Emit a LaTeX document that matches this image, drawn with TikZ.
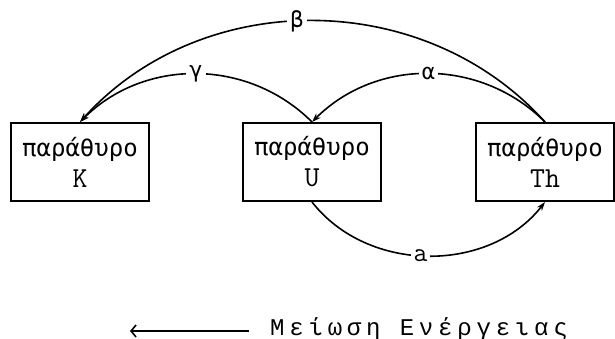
\documentclass[tikz,border=0pt]{standalone}
\usepackage{fontspec}
\usetikzlibrary{arrows.meta}
\newfontfamily\boxfont{DejaVu Sans Mono}
\newfontfamily\spacedfont[LetterSpace=20]{Liberation Mono}
\newcommand\windowlabel[1]{{\ttfamily\fontsize{29pt}{31pt}\selectfont #1}}

\begin{document}
\begin{tikzpicture}[x=1pt,y=1pt,
  window/.style={draw, line width=2pt, minimum width=138pt, minimum height=78pt,
    inner sep=0pt, align=center, font=\fontsize{24pt}{31pt}\selectfont},
  flow/.style={line width=1.6pt, -{Stealth[length=9pt,width=6pt]}},
  ratio/.style={fill=white, inner sep=3pt, font=\boxfont\fontsize{22pt}{22pt}\selectfont},
  latinratio/.style={fill=white, inner sep=3pt, font=\ttfamily\fontsize{27pt}{27pt}\selectfont}]
\useasboundingbox (0,0) rectangle (615,-339);

% the three energy windows
\node[window] (K)  at (80,-162)  {{\boxfont παράθυρο}\\\windowlabel{K}};
\node[window] (U)  at (312,-162) {{\boxfont παράθυρο}\\\windowlabel{U}};
\node[window] (Th) at (545,-162) {{\boxfont παράθυρο}\\\windowlabel{Th}};

% stripping ratios between the windows
\draw[flow] (U.north)  to[bend right=45] node[ratio] {γ} (K.north);
\draw[flow] (Th.north) to[bend right=45] node[ratio] {α} (U.north);
\draw[flow] (Th.north) to[bend right=48] node[ratio, pos=0.53] {β} (K.north);
\draw[flow] (U.south)  to[bend right=52] node[latinratio, pos=0.47] {a} (Th.south);

% energy direction
\coordinate (es) at (249,-331);
\coordinate (ee) at (130,-331);
\draw[line width=1.6pt, -{Straight Barb[length=5pt,width=12pt]}] (es) -- (ee);
\node[font=\spacedfont\fontsize{24pt}{24pt}\selectfont] (energy) at (419,-329) {Μείωση Ενέργειας};
\end{tikzpicture}
\end{document}
